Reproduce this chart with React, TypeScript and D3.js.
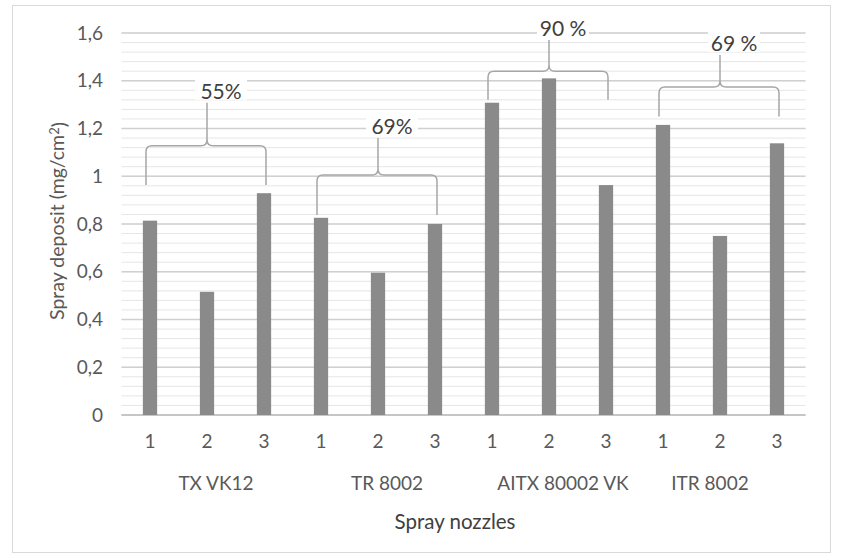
import React from "react";
import * as d3 from "d3";

const groups = ["TX VK12", "TR 8002", "AITX 80002 VK", "ITR 8002"];
const nozzles = ["1", "2", "3"];
const deposits = [
  [0.814, 0.516, 0.929],
  [0.826, 0.596, 0.8],
  [1.308, 1.41, 0.963],
  [1.215, 0.75, 1.138],
];
const percentLabels = ["55%", "69%", "90 %", "69 %"];
// brace levels (value units): bottom of arms, horizontal, peak
const braceBottom = [0.963, 0.838, 1.32, 1.25];
const braceMid = [1.128, 1.005, 1.44, 1.374];
const bracePeak = [1.308, 1.16, 1.571, 1.508];
const yTicks = [0, 0.2, 0.4, 0.6, 0.8, 1, 1.2, 1.4, 1.6];
const groupLabelShift = [9, 9, 14, -10];

const W = 841;
const H = 558;
const FONT = "Lato, 'Open Sans', sans-serif";

export default function App() {
  const rows = groups.flatMap((g, gi) =>
    nozzles.map((n, ni) => ({ key: `${gi}-${ni}`, g, gi, n, ni, v: deposits[gi][ni] }))
  );
  const x = d3
    .scaleBand<string>()
    .domain(rows.map((r) => r.key))
    .range([121.5, 805.5])
    .paddingInner(0.75)
    .paddingOuter(0.375);
  const y = d3.scaleLinear().domain([0, 1.6]).range([415, 33]);
  const cx = (k: string) => (x(k) as number) + x.bandwidth() / 2;
  const minor = d3.range(0, 1.6001, 0.04);
  const fmt = (v: number) => (v === 0 ? "0" : v === 1 ? "1" : d3.format(".1f")(v).replace(".", ","));

  const braces = groups.map((g, gi) => {
    const x0 = cx(`${gi}-0`) - 4;
    const x1 = cx(`${gi}-2`) + 2;
    const xm = cx(`${gi}-1`);
    const yb = y(braceBottom[gi]);
    const yh = y(braceMid[gi]);
    const yp = y(bracePeak[gi]);
    const r = 6;
    const d = `M${x0},${yb} L${x0},${yh + r} Q${x0},${yh} ${x0 + r},${yh} L${xm - r},${yh} Q${xm},${yh} ${xm},${yh - r} L${xm},${yp} M${xm},${yh - r} Q${xm},${yh} ${xm + r},${yh} L${x1 - r},${yh} Q${x1},${yh} ${x1},${yh + r} L${x1},${yb}`;
    return { d, xm, yp, label: percentLabels[gi] };
  });

  return (
    <svg width={W} height={H} style={{ display: "block", position: "absolute", left: 0, top: 0 }}>
      <rect x={0} y={0} width={W} height={H} fill="#fff" />
      <rect x={12.5} y={5.5} width={818} height={547} fill="#fff" stroke="#d9d9d9" />
      {minor.map((v, i) => (
        <line key={`m${i}`} x1={121.5} x2={805.5} y1={y(v)} y2={y(v)} stroke="#e6e6e6" strokeWidth={1} />
      ))}
      {yTicks.map((v) => (
        <line key={`g${v}`} x1={121.5} x2={805.5} y1={y(v)} y2={y(v)} stroke="#d0d0d0" strokeWidth={1.5} />
      ))}
      <line x1={121.5} x2={805.5} y1={y(0)} y2={y(0)} stroke="#bfbfbf" strokeWidth={1.5} />
      {yTicks.map((v) => (
        <text key={`t${v}`} x={103} y={y(v)} dy="0.35em" textAnchor="end" fontFamily={FONT} fontSize={19} fill="#595959">
          {fmt(v)}
        </text>
      ))}
      {rows.map((r) => (
        <rect key={r.key} x={x(r.key)} y={y(r.v)} width={x.bandwidth()} height={y(0) - y(r.v)} fill="#8a8a8a" />
      ))}
      {rows.map((r) => (
        <text key={`n${r.key}`} x={cx(r.key)} y={441} dy="0.35em" textAnchor="middle" fontFamily={FONT} fontSize={19} fill="#595959">
          {r.n}
        </text>
      ))}
      {groups.map((g, gi) => (
        <text key={g} x={cx(`${gi}-1`) + groupLabelShift[gi]} y={483} dy="0.35em" textAnchor="middle" fontFamily={FONT} fontSize={19} fill="#595959">
          {g}
        </text>
      ))}
      {braces.map((b, i) => (
        <g key={`b${i}`}>
          <rect x={b.xm - 12} y={b.yp - 25} width={52} height={22} fill="#fff" />
          <path d={b.d} fill="none" stroke="#a6a6a6" strokeWidth={1.5} />
          <text x={b.xm + 14} y={b.yp - 4} textAnchor="middle" fontFamily={FONT} fontSize={21} fill="#404040">
            {b.label}
          </text>
        </g>
      ))}
      <text x={455} y={522} dy="0.35em" textAnchor="middle" fontFamily={FONT} fontSize={20.5} fill="#404040">
        Spray nozzles
      </text>
      <text transform={`translate(57,221) rotate(-90)`} dy="0.35em" textAnchor="middle" fontFamily={FONT} fontSize={19.5} fill="#595959">
        Spray deposit (mg/cm<tspan dy="-0.4em" fontSize={13}>2</tspan><tspan dy="0.4em">)</tspan>
      </text>
    </svg>
  );
}
